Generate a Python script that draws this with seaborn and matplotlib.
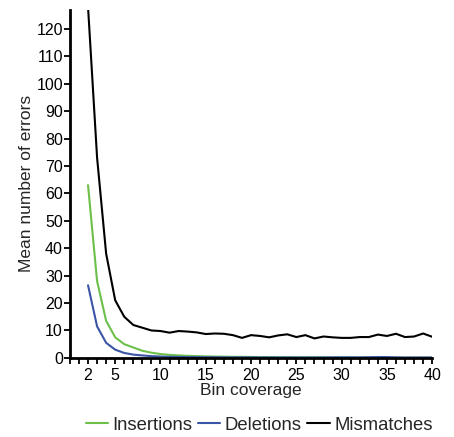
import matplotlib
matplotlib.use("Agg")
import matplotlib.pyplot as plt
import numpy as np
import pandas as pd
import seaborn as sns
from matplotlib.ticker import MultipleLocator, FixedLocator

COVERAGE = list(range(2, 41))
INSERTIONS = [63, 28, 13.5, 7.5, 5.0, 3.8, 2.6, 1.9, 1.4, 1.1, 0.9, 0.75, 0.65, 0.55,
              0.5, 0.45, 0.4, 0.4, 0.35, 0.3, 0.3, 0.25, 0.25, 0.2, 0.2, 0.2, 0.2, 0.15,
              0.15, 0.15, 0.15, 0.15, 0.1, 0.1, 0.1, 0.1, 0.1, 0.1, 0.1]
DELETIONS = [26.5, 11.5, 5.5, 3.0, 1.8, 1.2, 0.9, 0.65, 0.5, 0.4, 0.35, 0.3, 0.3, 0.25,
             0.25, 0.2, 0.2, 0.2, 0.2, 0.15, 0.15, 0.15, 0.15, 0.15, 0.15, 0.15, 0.15,
             0.2, 0.2, 0.2, 0.2, 0.25, 0.3, 0.3, 0.2, 0.15, 0.15, 0.15, 0.15]
MISMATCHES = [128, 73, 38, 21, 15, 12, 11, 10, 9.8, 9.2, 9.8, 9.6, 9.3, 8.7, 8.9, 8.8,
              8.3, 7.3, 8.3, 8.0, 7.5, 8.2, 8.6, 7.6, 8.3, 7.1, 7.8, 7.5, 7.3, 7.3,
              7.6, 7.6, 8.5, 8.0, 8.8, 7.6, 7.8, 8.9, 7.7]
SERIES = ["Insertions", "Deletions", "Mismatches"]
COLORS = ["#6cc04a", "#3a55a5", "#000000"]


def main() -> None:
    sns.set_theme(style="ticks")
    plt.rcParams["font.family"] = ["Liberation Sans", "DejaVu Sans"]

    df = pd.DataFrame({
        "coverage": COVERAGE * 3,
        "errors": INSERTIONS + DELETIONS + MISMATCHES,
        "type": np.repeat(SERIES, len(COVERAGE)),
    })

    fig = plt.figure(figsize=(4.54, 4.37), dpi=100)
    ax = fig.add_axes([0.154, 0.181, 0.798, 0.797])
    sns.lineplot(data=df, x="coverage", y="errors", hue="type", hue_order=SERIES,
                 palette=COLORS, linewidth=1.5, ax=ax, legend=True)

    ax.set_xlim(0, 40)
    ax.set_ylim(0, 127)
    ax.xaxis.set_major_locator(FixedLocator([2, 5, 10, 15, 20, 25, 30, 35, 40]))
    ax.xaxis.set_minor_locator(MultipleLocator(1))
    ax.yaxis.set_major_locator(MultipleLocator(10))
    ax.tick_params(axis="both", which="major", labelsize=11.5, width=1.3, length=4.5,
                   colors="black")
    ax.tick_params(axis="y", which="major", pad=0.5)
    ax.tick_params(axis="x", which="major", pad=2.5)
    ax.tick_params(axis="x", which="minor", width=1.3, length=4.5, colors="black")
    ax.set_xlabel("Bin coverage", fontsize=12.5, labelpad=0)
    ax.set_ylabel("Mean number of errors", fontsize=12.5, labelpad=2)
    for side in ["left", "bottom"]:
        ax.spines[side].set_linewidth(2)
        ax.spines[side].set_color("black")
    sns.despine(ax=ax)

    handles, labels = ax.get_legend_handles_labels()
    ax.get_legend().remove()
    fig.legend(handles, labels, loc="center", bbox_to_anchor=(0.571, 0.027),
               ncol=3, frameon=False, fontsize=13.3, handlelength=1.2,
               handletextpad=0.25, columnspacing=0.3, borderaxespad=0,
               borderpad=0)

    fig.savefig("out.png", dpi=100)
    plt.close(fig)


if __name__ == "__main__":
    main()
